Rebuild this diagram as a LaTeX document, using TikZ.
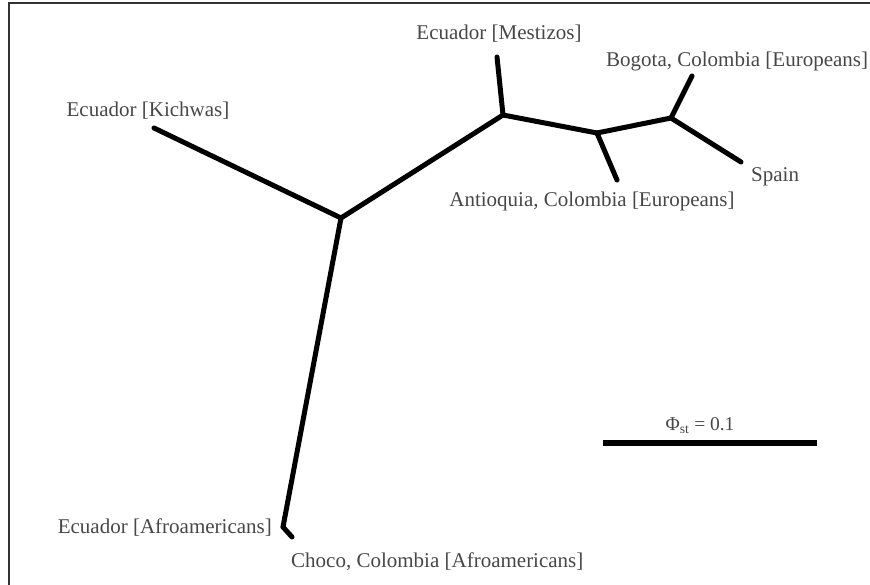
\documentclass[tikz,border=0pt]{standalone}
\usepackage{fontspec}
\setmainfont{Liberation Serif}
\begin{document}
\begin{tikzpicture}[x=1pt,y=-1pt,
  branch/.style={line width=5pt, line cap=round, line join=round, black},
  taxon/.style={font=\fontsize{21}{23}\selectfont, text=black!72, inner sep=0pt, anchor=base},
  frameline/.style={line width=1.6pt, black!80}]
\useasboundingbox (0,0) rectangle (870,585);
% frame
\draw[frameline] (9,590) -- (9,3) -- (875,3);

% tree vertices
\coordinate (root) at (341,218);
\coordinate (kich) at (154,128);
\coordinate (mnode) at (503,115);
\coordinate (mest) at (497,57);
\coordinate (anode) at (597,133);
\coordinate (anti) at (617,180);
\coordinate (bnode) at (671,118);
\coordinate (bogo) at (692,76);
\coordinate (spain) at (741,162);
\coordinate (afro) at (283,527);
\coordinate (choco) at (292,537);

% branches
\draw[branch] (root) -- (kich);
\draw[branch] (root) -- (mnode);
\draw[branch] (mnode) -- (mest);
\draw[branch] (mnode) -- (anode);
\draw[branch] (anode) -- (anti);
\draw[branch] (anode) -- (bnode);
\draw[branch] (bnode) -- (bogo);
\draw[branch] (bnode) -- (spain);
\draw[branch] (root) -- (afro);
\draw[branch] (afro) -- (choco);

% labels
\node[taxon] (lkich) at (148,117) {Ecuador [Kichwas]};
\node[taxon] (lmest) at (499,40) {Ecuador [Mestizos]};
\node[taxon, anchor=base west] (lbogo) at (606,67) {Bogota, Colombia [Europeans]};
\node[taxon] (lanti) at (592,207) {Antioquia, Colombia [Europeans]};
\node[taxon, anchor=base west] (lspain) at (751,182) {Spain};
\node[taxon, anchor=base east] (lafro) at (272,533) {Ecuador [Afroamericans]};
\node[taxon, anchor=base west] (lchoco) at (291,567) {Choco, Colombia [Afroamericans]};

% scale bar
\coordinate (sbl) at (603,443);
\coordinate (sbr) at (817,443);
\draw[line width=6pt, black] (sbl) -- (sbr);
\node[taxon, font=\fontsize{19.5}{21}\selectfont] (lscale) at (700,430) {Φ\textsubscript{st} = 0.1};
\end{tikzpicture}
\end{document}
